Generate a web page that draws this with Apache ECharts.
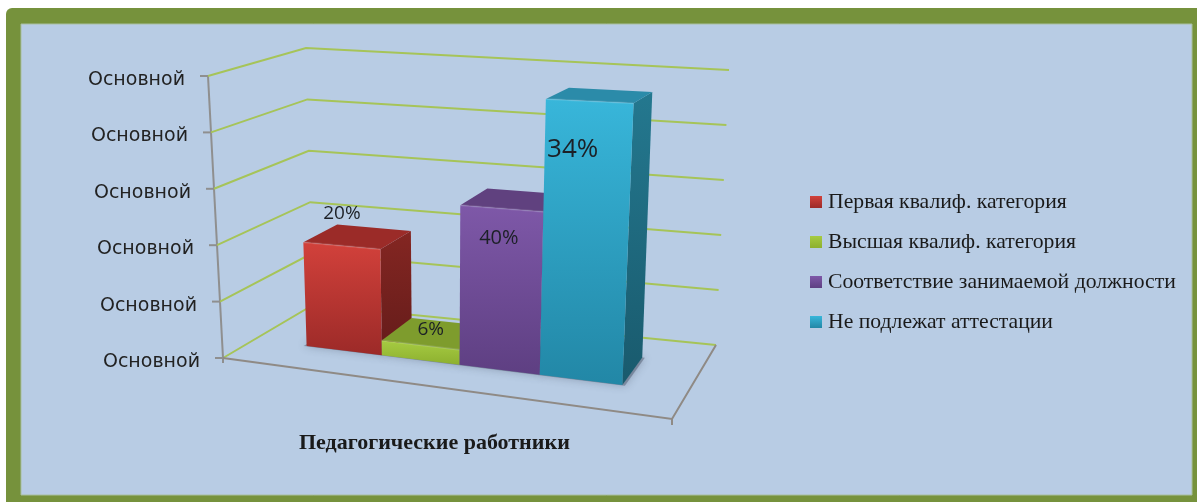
<!DOCTYPE html>
<html>
<head>
<meta charset="utf-8">
<title>Педагогические работники</title>
<style>
  html, body { margin: 0; padding: 0; background: #fff; }
  #chart { width: 1197px; height: 502px; }
</style>
<script src="https://cdn.jsdelivr.net/npm/echarts@6/dist/echarts.min.js"></script>
</head>
<body>
<div id="chart"></div>
<script>
const categories = ['Первая квалиф. категория', 'Высшая квалиф. категория', 'Соответствие занимаемой должности', 'Не подлежат аттестации']
const barValues = [18.7, 2.6, 27.6, 46.7]
const barLabels = ['20%', '6%', '40%', '34%']
const yTicks = [0, 10, 20, 30, 40, 50]
const yTickLabels = ['Основной', 'Основной', 'Основной', 'Основной', 'Основной', 'Основной']
const axisTitle = 'Педагогические работники'

// the eight corners of the chart box as seen on screen, f/b = front/back, l/r = left/right
const floor = { fl: [223, 358], fr: [672, 419], br: [716, 345], bl: [313, 305] }
const roof = { fl: [208, 76], fr: [690, 95], br: [729, 70], bl: [306, 48] }
const barsFrom = 0.13
const barsSpan = 0.73
const depthFront = 0.35
const depthBack = 0.74

const faces = [
  { front: ['#d2413b', '#9c2a28'], top: '#9b2b28', side: ['#842622', '#641c1a'] },
  { front: ['#a6cb42', '#8db02f'], top: '#7e9c2d', side: ['#6f8a28', '#5f7722'] },
  { front: ['#7e58a8', '#5e3f82'], top: '#60417f', side: ['#4e3569', '#422d59'] },
  { front: ['#38b6da', '#2287a6'], top: '#2b8ba9', side: ['#24788f', '#195a6d'] },
]
const labelStyles = [
  { dx: 0, dy: -32, size: 19 },
  { dx: 10, dy: -16, size: 19 },
  { dx: -3, dy: 30, size: 20 },
  { dx: -17, dy: 49, size: 26 },
]

function mix (a, b, t) {
  return [a[0] + (b[0] - a[0]) * t, a[1] + (b[1] - a[1]) * t]
}

function planePoint (p, u, d) {
  return mix(mix(p.fl, p.fr, u), mix(p.bl, p.br, u), d)
}

function project (u, d, h) {
  // slight squeeze on the left, the right side of the box is nearer to the viewer
  const uw = u - 0.085 * u * (1 - u)
  return mix(planePoint(floor, uw, d), planePoint(roof, uw, d), h)
}

function vGrad (c) {
  return { type: 'linear', x: 0, y: 0, x2: 0, y2: 1, colorStops: [{ offset: 0, color: c[0] }, { offset: 1, color: c[1] }] }
}

function poly (points, fill) {
  return { type: 'polygon', shape: { points }, style: { fill } }
}

function line (points, stroke, lineWidth) {
  return { type: 'polyline', shape: { points }, style: { fill: null, stroke, lineWidth } }
}

// from pixels of the hidden grid to the position in the box
function barBox (params, api) {
  const sys = params.coordSys
  const pt = api.coord([api.value(0), api.value(1)])
  const band = api.size([1, 0])[0]
  const u0 = barsFrom + (pt[0] - band / 2 - sys.x) / sys.width * barsSpan
  const u1 = u0 + band / sys.width * barsSpan
  const h = (sys.y + sys.height - pt[1]) / sys.height
  return { u0, u1, h }
}

function renderFrame (params, api) {
  const sys = params.coordSys
  const pt = api.coord([0, api.value(1)])
  const h = (sys.y + sys.height - pt[1]) / sys.height
  const children = []
  const a = project(0, 0, h)
  children.push(line([a, project(0, 1, h), project(1, 1, h)], '#a6c458', 2))
  children.push(line([[a[0] - 8, a[1]], a], '#8f8f8f', 2))
  children.push({
    type: 'text',
    style: {
      text: yTickLabels[params.dataIndex],
      x: a[0] - 23,
      y: a[1] + 4,
      align: 'right',
      verticalAlign: 'middle',
      fontFamily: 'DejaVu Sans',
      fontSize: 19,
      fill: '#222',
    },
  })
  if (params.dataIndex === 0) {
    const fr = project(1, 0, 0)
    children.push(line([project(0, 0, 1), a, [a[0], a[1] + 5]], '#8f8f8f', 2))
    children.push(line([a, fr, project(1, 1, 0)], '#8f8a85', 2))
    children.push(line([fr, [fr[0], fr[1] + 6]], '#8f8a85', 2))
  }
  return { type: 'group', children }
}

function renderShadow (params, api) {
  const b = barBox(params, api)
  const d0 = depthFront - 0.005
  const d1 = depthBack
  const u1 = params.dataIndex === categories.length - 1 ? b.u1 + 0.006 : b.u1
  const u0 = params.dataIndex === 0 ? b.u0 - 0.006 : b.u0
  return {
    type: 'polygon',
    silent: true,
    shape: { points: [project(u0, d0, 0), project(u1, d0, 0), project(u1, d1, 0), project(u0, d1, 0)] },
    style: { fill: 'rgba(60,70,90,0.4)', shadowBlur: 8, shadowColor: 'rgba(50,60,80,0.75)' },
  }
}

function renderBar (params, api) {
  const b = barBox(params, api)
  const i = api.value(0)
  const f = faces[i]
  const ls = labelStyles[i]
  const flt = project(b.u0, depthFront, b.h)
  const frt = project(b.u1, depthFront, b.h)
  const frb = project(b.u1, depthFront, 0)
  const flb = project(b.u0, depthFront, 0)
  const blt = project(b.u0, depthBack, b.h)
  const brt = project(b.u1, depthBack, b.h)
  const brb = project(b.u1, depthBack, 0)
  const mid = mix(flt, frt, 0.5)
  return {
    type: 'group',
    children: [
      poly([frt, brt, brb, frb], vGrad(f.side)),
      poly([flt, frt, brt, blt], f.top),
      poly([flt, frt, frb, flb], vGrad(f.front)),
      line([flt, frt], 'rgba(255,255,255,0.12)', 2),
      {
        type: 'text',
        z2: 10,
        style: {
          text: barLabels[i],
          x: mid[0] + ls.dx,
          y: mid[1] + ls.dy,
          align: 'center',
          verticalAlign: 'middle',
          fontFamily: 'Open Sans',
          fontSize: ls.size,
          fill: '#1c2026',
        },
      },
    ],
  }
}

const chart = echarts.init(document.getElementById('chart'))

const barSeries = categories.map((name, i) => ({
  name,
  type: 'custom',
  z: 5 + i,
  renderItem: renderBar,
  itemStyle: { color: vGrad(faces[i].front) },
  data: [[i, barValues[i]]],
}))

chart.setOption({
  animation: false,
  graphic: [
    { type: 'rect', z: -10, shape: { x: 6, y: 8, width: 1191, height: 494, r: [6, 0, 0, 0] }, style: { fill: '#76923c' } },
    { type: 'rect', z: -9, shape: { x: 21, y: 24, width: 1171, height: 471 }, style: { fill: '#b8cce4', stroke: '#a9bfa0', lineWidth: 1 } },
  ],
  title: {
    text: axisTitle,
    left: 299,
    top: 432,
    padding: 0,
    textStyle: { fontFamily: 'Liberation Serif', fontWeight: 'bold', fontSize: 22, color: '#1a1a1a' },
  },
  legend: {
    data: categories,
    orient: 'vertical',
    left: 810,
    top: 191,
    padding: 0,
    icon: 'rect',
    itemWidth: 12,
    itemHeight: 12,
    itemGap: 18,
    selectedMode: false,
    textStyle: { fontFamily: 'Liberation Serif', fontSize: 21.7, color: '#1a1a1a', padding: [0, 0, 0, 1] },
  },
  grid: { left: 0, right: 0, top: 0, bottom: 0 },
  xAxis: { type: 'category', data: categories, show: false },
  yAxis: { type: 'value', min: 0, max: 50, interval: 10, show: false },
  series: [
    {
      name: 'frame',
      type: 'custom',
      z: 2,
      silent: true,
      renderItem: renderFrame,
      data: yTicks.map(v => [0, v]),
    },
    {
      name: 'shadow',
      type: 'custom',
      z: 3,
      silent: true,
      renderItem: renderShadow,
      data: barValues.map((v, i) => [i, v]),
    },
    ...barSeries,
  ],
})
</script>
</body>
</html>
